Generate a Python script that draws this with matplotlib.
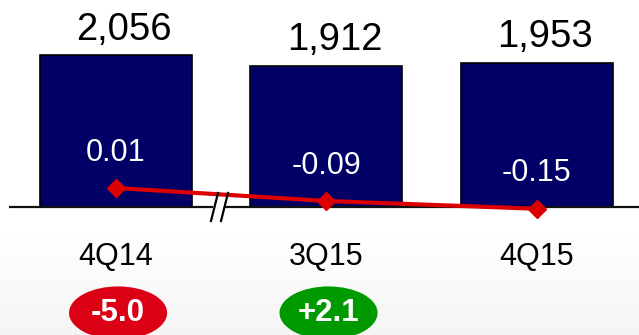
import numpy as np
import matplotlib
matplotlib.use("Agg")
import matplotlib.pyplot as plt
from matplotlib.patches import Ellipse, Polygon
from matplotlib.lines import Line2D

plt.rcParams["font.family"] = ["Liberation Sans", "DejaVu Sans"]

# Quarterly figures
quarters = ["4Q14", "3Q15", "4Q15"]
volumes = [2056, 1912, 1953]
eps = [0.01, -0.09, -0.15]
changes = [-5.0, 2.1]          # change badges under the first two quarters

W, H = 639, 335
fig = plt.figure(figsize=(W / 100, H / 100), dpi=100)

# soft grey fade towards the bottom edge
bg = fig.add_axes([0, 0, 1, 1], zorder=-2)
rows = np.arange(H)
shade = np.ones(H)
fade = rows > 235
shade[fade] = 1.0 - 0.04 * (rows[fade] - 235) / (H - 235)
bg.imshow(np.repeat(shade[:, None], 2, axis=1)[:, :, None].repeat(3, axis=2),
          aspect="auto", extent=[0, 1, 0, 1], vmin=0, vmax=1)
bg.set_axis_off()

ax = fig.add_axes([0, 0, 1, 1])
ax.patch.set_alpha(0)
x = np.arange(len(quarters))

ax.bar(x, volumes, width=0.722, color="#000066", edgecolor="black",
       linewidth=1.2, zorder=2)
ax.set_xlim(-0.551, 2.485)
ax.set_ylim(-1734, 2805)
ax.set_axis_off()

# baseline
ax.plot([0.014, 1], [0, 0], transform=ax.get_yaxis_transform(),
        color="#111111", lw=1.6, zorder=3, solid_capstyle="butt")

for xi, v in zip(x, volumes):
    ax.annotate(f"{v:,}", (xi, v), xytext=(6, 18.5), textcoords="offset points",
                ha="center", va="center", fontsize=27.5, color="black")

for xi, q in zip(x, quarters):
    ax.text(xi, 0.233, q, transform=ax.get_xaxis_transform(),
            ha="center", va="center", fontsize=22, color="black")

badge_colors = {True: "#DC0014", False: "#009A00"}
for xi, c in zip(x, changes):
    ax.add_patch(Ellipse((xi + 0.01, 0.066), 0.466, 0.158,
                         transform=ax.get_xaxis_transform(),
                         facecolor=badge_colors[c < 0], edgecolor="none", zorder=3))
    ax.text(xi + 0.01, 0.066, f"{c:+.1f}", transform=ax.get_xaxis_transform(),
            ha="center", va="center", fontsize=22.5, fontweight="bold",
            color="white", zorder=4)

# EPS line on its own scale
ax2 = ax.twinx()
ax2.set_position([0, 0, 1, 1])
ax2.set_ylim(-1.121, 1.456)
ax2.set_axis_off()
ax2.plot(x, eps, color="#DD0000", lw=3, marker="D", markersize=8.7,
         zorder=5)
for xi, e in zip(x, eps):
    ax2.annotate(f"{e:.2f}", (xi, e), xytext=(0, 25.5), textcoords="offset points",
                 ha="center", va="center", fontsize=22, color="white", zorder=6)

# axis break marks on the baseline
def px(xp, yp):
    return (xp / W, 1 - yp / H)

gap = Polygon([px(214, 200), px(225, 200), px(223, 214), px(212, 214)],
              closed=True, transform=fig.transFigure, facecolor="white",
              edgecolor="none", zorder=4)
ax.add_patch(gap)
for (x0, y0), (x1, y1) in [((218, 193), (211, 221)), ((228, 193), (221, 221))]:
    p0, p1 = px(x0, y0), px(x1, y1)
    fig.add_artist(Line2D([p0[0], p1[0]], [p0[1], p1[1]], color="black",
                          lw=1.6, transform=fig.transFigure, zorder=10))

fig.savefig("out.png", dpi=100)
